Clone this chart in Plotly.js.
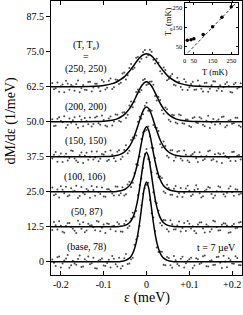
<!DOCTYPE html>
<html>
<head>
<meta charset="utf-8">
<script src="https://cdn.plot.ly/plotly-3.0.1.min.js"></script>
<style>html,body{margin:0;padding:0;background:#fff;}#chart{width:243px;height:315px;}</style>
</head>
<body>
<div id="chart"></div>
<script>
// ---- data ----
const curveLabels = ["(base, 78)", "(50, 87)", "(100, 106)", "(150, 150)", "(200, 200)", "(250, 250)"];
const baselines = [0, 12.5, 25, 37.5, 50, 62.5];

const xDots = [-0.220,-0.212,-0.204,-0.196,-0.188,-0.180,-0.172,-0.164,-0.156,-0.148,-0.140,-0.132,-0.124,-0.116,-0.108,-0.100,-0.092,-0.084,-0.076,-0.068,-0.060,-0.052,-0.044,-0.036,-0.028,-0.020,-0.012,-0.004,
 0.004,0.012,0.020,0.028,0.036,0.044,0.052,0.060,0.068,0.076,0.084,0.092,0.100,0.108,0.116,0.124,0.132,0.140,0.148,0.156,0.164,0.172,0.180,0.188,0.196,0.204,0.212,0.220];
const xDots2 = [-0.216,-0.208,-0.200,-0.192,-0.184,-0.176,-0.168,-0.160,-0.152,-0.144,-0.136,-0.128,-0.120,-0.112,-0.104,-0.096,-0.088,-0.080,-0.072,-0.064,-0.056,-0.048,-0.040,-0.032,-0.024,-0.016,-0.008,
 0.000,0.008,0.016,0.024,0.032,0.040,0.048,0.056,0.064,0.072,0.080,0.088,0.096,0.104,0.112,0.120,0.128,0.136,0.144,0.152,0.160,0.168,0.176,0.184,0.192,0.200,0.208,0.216];

const dotsBase = [0.8,-1.5,1.9,-0.6,1.2,-2.1,0.4,-1.0,2.3,-1.7,0.2,-0.9,1.5,-2.4,0.7,-1.3,-0.4,-2.0,1.1,
 -1.7,-2.4,1.3,-0.8,0.9,6.1,9.1,20.1,26.3,
 28.2,17.3,11.0,3.5,3.6,-1.2,1.4,-2.1,0.6,
 -1.4,1.8,-0.5,0.9,-2.2,1.3,-0.8,2.0,-1.6,0.3,-1.1,1.7,-0.3,2.2,-1.9,0.6,-0.7,1.4,-1.2];
const dotsBase2 = [-0.3,1.6,-2.0,0.5,2.4,-1.2,-0.6,1.0,-1.8,0.9,1.9,-0.5,-2.3,0.4,1.2,-1.5,0.7,2.1,-0.9,
 1.5,-1.5,2.8,-0.6,1.5,8.0,12.8,24.3,27.5,22.1,15.8,5.1,3.7,-1.0,1.75,-1.2,2.1,
 -0.8,1.1,-2.0,0.3,1.5,-1.3,0.9,-0.4,2.3,-1.7,0.6,-1.0,1.8,-2.2,0.1,1.3,-0.6,2.0,-1.1];
const dots50 = [-1.1,0.6,2.0,-1.8,0.3,1.4,-0.7,-2.2,0.9,1.6,-1.3,0.5,-0.2,2.1,-1.6,0.8,1.2,-0.9,0.4,
 1.6,-1.7,1.0,-0.4,3.0,3.6,11.3,17.2,26.0,
 24.2,19.5,9.0,5.8,0.5,2.3,-1.7,0.9,-0.9,
 1.9,-0.4,-1.5,1.1,0.2,-2.3,1.5,-0.6,0.8,-1.8,2.2,-0.1,-1.2,1.3,0.5,-1.9,1.0,-0.3,1.7];
const dots50b = [1.7,-1.0,0.4,-2.1,1.3,0.0,-1.4,2.2,-0.7,-1.9,1.1,0.6,-1.2,1.8,-0.3,-2.2,1.0,0.2,-1.6,
 1.0,-1.8,2.15,0.3,5.0,5.6,14.9,21.0,27.8,23.0,12.3,8.4,1.4,2.4,-0.85,2.3,-1.0,
 0.5,-1.7,1.4,2.1,-0.6,-1.5,0.8,1.6,-2.0,0.2,-0.9,1.9,-1.3,0.7,1.2,-2.1,0.4,-0.5,1.5];
const dots100 = [1.5,-0.9,-2.0,0.7,1.8,-1.2,0.1,2.2,-1.5,-0.3,1.0,-2.1,0.6,1.7,-0.8,-1.7,0.9,0.3,
 -1.3,1.8,-0.5,-1.3,2.6,1.7,6.7,9.6,18.8,21.7,
 23.3,15.7,12.1,5.2,4.9,-0.4,1.35,-1.1,2.1,-0.5,
 -1.9,1.2,0.4,-1.0,2.3,-0.5,-1.6,0.8,1.4,-2.2,0.2,1.6,-0.9,-0.3,2.0,-1.4,0.7,-0.6];
const dots100b = [-1.2,0.8,2.0,-0.5,-1.6,1.3,0.3,-2.2,1.7,-0.9,0.5,2.1,-1.4,-0.1,1.5,-1.8,0.9,
 -0.65,1.9,-1.25,1.6,-0.9,3.6,3.2,9.8,12.6,21.2,22.1,19.7,15.5,6.5,5.5,0.1,2.5,-1.1,1.05,-1.8,1.35,
 -0.4,2.2,-1.5,0.6,1.0,-2.0,0.3,1.7,-0.8,-1.3,2.0,0.1,-1.7,1.2,-0.2,0.9,-1.0];
const dots150 = [-0.6,1.7,0.2,-1.9,1.1,-0.4,2.1,-1.3,0.5,-2.2,1.4,0.0,-1.0,1.9,-0.7,0.8,
 -1.5,2.2,-0.5,1.75,-0.9,2.4,1.3,6.0,6.6,12.5,13.7,18.2,
 16.4,16.4,10.5,9.2,3.3,3.8,-0.3,2.3,-0.15,2.1,-1.3,0.7,
 -2.0,1.0,-0.5,1.6,-1.2,0.3,2.2,-0.9,-1.7,0.9,1.3,-0.2,-1.5,1.8,0.4,-1.0];
const dots150b = [0.7,-1.8,1.2,0.1,-1.3,2.2,-0.6,-2.0,1.5,0.4,-1.1,1.9,-0.3,-1.6,1.0,
 1.8,-1.1,0.7,-1.6,2.3,0.0,4.1,2.15,6.9,7.6,14.3,15.2,19.3,16.8,11.3,10.3,4.5,5.45,0.4,2.3,-1.4,1.8,-0.6,2.2,-1.3,
 0.5,1.6,-1.9,0.2,-0.8,2.0,-1.2,0.9,1.3,-2.2,0.3,-0.4,1.7,-1.5,0.6];
const dots200 = [0.9,-1.4,1.6,-0.2,-2.1,1.2,0.5,-1.0,2.0,-1.6,0.3,1.5,-0.8,
 1.9,-1.1,0.6,-1.7,1.9,0.1,2.5,0.0,3.4,2.5,7.2,7.1,11.5,11.3,15.3,
 13.5,14.4,9.2,8.8,4.1,5.1,0.7,2.5,-0.3,2.6,-0.5,0.8,-1.5,1.3,-0.3,
 1.6,-1.1,0.4,-2.2,1.0,0.2,-0.7,1.9,-1.3,0.6,-0.5,1.4,-1.8];
const dots200b = [-1.5,1.1,0.3,2.0,-1.2,-0.4,1.6,-2.1,0.7,1.3,-0.9,-1.7,
 1.5,-0.5,2.2,-1.3,1.15,-1.35,2.55,0.3,3.3,1.3,5.8,5.2,10.6,10.6,14.9,13.1,14.3,13.2,7.6,7.8,2.9,4.5,0.1,2.3,-0.65,2.35,-0.75,0.8,-1.9,1.6,-0.45,
 1.2,-1.6,2.1,-0.3,-1.0,0.8,1.7,-2.0,0.4,-0.7,1.4,-1.3];
const dots250 = [1.3,-0.5,-1.8,0.8,2.1,-1.1,0.2,1.0,-2.0,0.6,
 -1.2,1.8,-0.3,1.1,-1.6,1.8,-0.4,2.9,-0.2,2.4,1.4,5.1,4.1,8.1,6.8,10.6,10.0,13.1,
 11.2,12.5,8.3,8.6,4.6,6.0,2.8,4.5,0.4,1.8,-1.1,1.7,-0.2,1.8,-1.0,0.4,-1.7,1.4,
 -0.7,2.0,-1.4,0.5,-0.2,1.6,-1.9,0.9,-0.6,1.2];
const dots250b = [-0.9,1.5,0.2,-2.0,1.1,0.6,-1.4,2.2,-0.5,-1.1,
 1.7,-1.7,1.1,-0.3,2.4,-1.0,2.1,-0.8,2.6,1.0,4.7,2.6,6.7,6.2,10.3,8.9,12.4,10.5,13.2,9.6,10.0,5.5,6.9,2.3,3.8,0.7,3.2,-0.1,2.7,-1.2,1.0,-1.1,2.2,-0.7,1.3,
 -1.8,0.5,1.9,-0.6,-1.5,1.0,0.3,-2.1,1.4,-0.2];
const dotSets = [dotsBase, dots50, dots100, dots150, dots200, dots250];
const dotSets2 = [dotsBase2, dots50b, dots100b, dots150b, dots200b, dots250b];

const xFit = [-0.23,-0.16,-0.12,-0.10,-0.08,-0.07,-0.06,-0.05,-0.04,-0.035,-0.03,-0.025,-0.02,-0.015,-0.01,-0.005,0,
 0.005,0.01,0.015,0.02,0.025,0.03,0.035,0.04,0.05,0.06,0.07,0.08,0.10,0.12,0.16,0.23];
const fitBase = [0,0,0,0,0.02,0.05,0.15,0.44,1.3,2.25,3.8,6.3,10.1,15.2,21.2,26.4,28.5,
 26.4,21.2,15.2,10.1,6.3,3.8,2.25,1.3,0.44,0.15,0.05,0.02,0,0,0,0];
const fit50 = [0,0,0,0,0.02,0.06,0.18,0.51,1.47,2.44,4.0,6.5,10.1,14.9,20.3,24.8,26.6,
 24.8,20.3,14.9,10.1,6.5,4.0,2.44,1.47,0.51,0.18,0.06,0.02,0,0,0,0];
const fit100 = [0,0,0,0,0.05,0.14,0.36,0.9,2.2,3.4,5.1,7.6,10.9,14.8,18.9,22.0,23.2,
 22.0,18.9,14.8,10.9,7.6,5.1,3.4,2.2,0.9,0.36,0.14,0.05,0,0,0,0];
const fit150 = [0,0,0.01,0.06,0.23,0.47,0.96,1.87,3.65,5.0,6.7,8.8,11.1,13.5,15.7,17.2,17.8,
 17.2,15.7,13.5,11.1,8.8,6.7,5.0,3.65,1.87,0.96,0.47,0.23,0.06,0.01,0,0];
const fit200 = [0,0.01,0.06,0.17,0.55,0.94,1.7,2.8,4.6,5.8,7.2,8.8,10.4,11.9,13.1,14.0,14.3,
 14.0,13.1,11.9,10.4,8.8,7.2,5.8,4.6,2.8,1.7,0.94,0.55,0.17,0.06,0.01,0];
const fit250 = [0,0.03,0.18,0.45,1.1,1.7,2.6,3.8,5.5,6.5,7.5,8.6,9.6,10.5,11.2,11.6,11.8,
 11.6,11.2,10.5,9.6,8.6,7.5,6.5,5.5,3.8,2.6,1.7,1.1,0.45,0.18,0.03,0];
const fitSets = [fitBase, fit50, fit100, fit150, fit200, fit250];

const yTickVals = [0, 12.5, 25, 37.5, 50, 62.5, 75, 87.5];
const yTickText = ["0", "12.5", "25.0", "37.5", "50.0", "62.5", "75.0", "87.5"];
const xTickVals = [-0.2, -0.1, 0, 0.1, 0.2];
const xTickText = ["-0.2", "-0.1", "0", "+0.1", "+0.2"];

// inset
const insetT = [15, 35, 50, 100, 150, 200, 250];
const insetTe = [83, 85, 90, 112, 152, 202, 256];
const insetLineT = [0, 290];
const insetLineTe = [0, 290];
const insetXTicks = [0, 50, 150, 250];
const insetYTicks = [50, 150, 250];

// ---- build ----
const FONT = "Liberation Serif, Times New Roman, serif";
const traces = [];
[dotSets, dotSets2].forEach((sets, s) => {
  const xs = s === 0 ? xDots : xDots2;
  sets.forEach((d, i) => {
    traces.push({
      x: xs, y: d.map(v => v + baselines[i]), type: "scatter", mode: "markers",
      marker: {size: 2, color: "#4a4a4a"}, hoverinfo: "skip", showlegend: false
    });
  });
});
fitSets.forEach((f, i) => {
  traces.push({
    x: xFit, y: f.map(v => v + baselines[i]), type: "scatter", mode: "lines",
    line: {color: "#000", width: 1.5, shape: "spline", smoothing: 0.7}, hoverinfo: "skip", showlegend: false
  });
});
traces.push({x: insetLineT, y: insetLineTe, xaxis: "x2", yaxis: "y2", type: "scatter", mode: "lines",
  line: {color: "#000", width: 0.8, dash: "3px,2px"}, showlegend: false, hoverinfo: "skip"});
traces.push({x: insetT, y: insetTe, xaxis: "x2", yaxis: "y2", type: "scatter", mode: "markers",
  marker: {size: 3.5, color: "#000"}, showlegend: false, hoverinfo: "skip"});

const px = p => (p - 51) / 191;
const py = p => (275 - p) / 274;
const ann = (text, x, y, size, extra) => Object.assign({
  text: text, xref: "paper", yref: "paper", x: px(x), y: py(y), xanchor: "center", yanchor: "middle",
  showarrow: false, font: {family: FONT, size: size, color: "#000"}
}, extra || {});

const labelY = [247.3, 211.7, 176.7, 141, 107, 69];
const labelX = [86, 86.7, 85, 86, 86, 86];
const annotations = curveLabels.map((t, i) => ann(t, labelX[i], labelY[i], 10));
annotations.push(ann("(T, T<sub>e</sub>)", 86, 46, 10));
annotations.push(ann("=", 86, 57, 10));
annotations.push(ann("t = 7 µeV", 216, 247, 10));
annotations.push(ann("ε (meV)", 146.7, 298, 14));
annotations.push(ann("dM/dε (1/meV)", 10, 121.5, 14, {textangle: -90}));
annotations.push(ann("T (mK)", 215, 71.5, 8.5));
annotations.push(ann("T<sub>e</sub> (mK)", 169, 22, 8.5, {textangle: -90}));

const layout = {
  width: 243, height: 315,
  margin: {l: 51, r: 1, t: 1, b: 40},
  paper_bgcolor: "#fff", plot_bgcolor: "#fff",
  font: {family: FONT, color: "#000"},
  showlegend: false,
  xaxis: {
    range: [-0.223, 0.223], tickvals: xTickVals, ticktext: xTickText,
    ticks: "inside", ticklen: 4, tickcolor: "#000", mirror: "ticks",
    showline: true, linecolor: "#000", linewidth: 1, showgrid: false, zeroline: false,
    tickfont: {family: FONT, size: 10, color: "#000"}
  },
  yaxis: {
    range: [-4.7, 93.1], tickvals: yTickVals, ticktext: yTickText,
    ticks: "outside", ticklen: 4, tickcolor: "#000", mirror: "ticks",
    showline: true, linecolor: "#000", linewidth: 1, showgrid: false, zeroline: false,
    tickfont: {family: FONT, size: 10, color: "#000"}
  },
  xaxis2: {
    domain: [0.699, 0.979], anchor: "y2", range: [0, 286], tickvals: insetXTicks,
    ticks: "inside", ticklen: 2, tickcolor: "#000", mirror: "ticks",
    showline: true, linecolor: "#000", linewidth: 1, showgrid: false, zeroline: false,
    tickfont: {family: FONT, size: 6.5, color: "#000"}
  },
  yaxis2: {
    domain: [0.807, 0.993], anchor: "x2", range: [12, 276], tickvals: insetYTicks,
    ticks: "inside", ticklen: 2, tickcolor: "#000", mirror: "ticks",
    showline: true, linecolor: "#000", linewidth: 1, showgrid: false, zeroline: false,
    tickfont: {family: FONT, size: 6.5, color: "#000"}
  },
  annotations: annotations
};

Plotly.newPlot("chart", traces, layout, {staticPlot: true, displayModeBar: false});
</script>
</body>
</html>
